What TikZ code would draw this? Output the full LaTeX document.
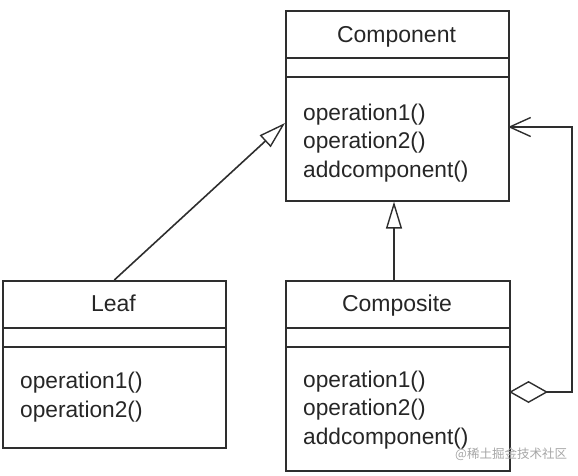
\documentclass[tikz,border=0pt]{standalone}
\usepackage{fontspec}
\setmainfont{Liberation Sans}
\newfontfamily\cjk{Noto Sans CJK SC}
\usetikzlibrary{arrows.meta,calc}
\tikzset{
  ln/.style={line width=1.6pt, draw=black!82},
  cls/.style={ln, rectangle, inner sep=0pt, anchor=north west},
  ttl/.style={anchor=base, font=\fontsize{23}{28}\selectfont, text=black!85},
  ops/.style={anchor=base west, align=left, inner sep=0pt, font=\fontsize{22.7}{28.3}\selectfont, text=black!85},
  inh/.style={ln, -{Triangle[open, length=27pt, width=16pt, line width=1.4pt]}},
  agg/.style={ln, {Diamond[open, length=39pt, width=22pt, line width=1.4pt]}-{Straight Barb[length=21pt, width=19pt, line width=1.4pt]}},
}
\begin{document}
\begin{tikzpicture}[x=1pt, y=-1pt]
\useasboundingbox (0,0) rectangle (578,475);
% Component
\node[cls, minimum width=223pt, minimum height=190pt] (comp) at (285,10) {};
\draw[ln] (285,58) -- (508,58) (285,77) -- (508,77);
\node[ttl] (compt) at (396.5,42) {Component};
\node[ops] (compo) at (303,177) {operation1()\\operation2()\\addcomponent()};
% Leaf
\node[cls, minimum width=223pt, minimum height=167pt] (leaf) at (2,280) {};
\draw[ln] (2,328) -- (225,328) (2,347) -- (225,347);
\node[ttl] (leaft) at (113.5,311) {Leaf};
\node[ops] (leafo) at (20,417) {operation1()\\operation2()};
% Composite
\node[cls, minimum width=224pt, minimum height=190pt] (cmps) at (285,280) {};
\draw[ln] (285,328) -- (509,328) (285,347) -- (509,347);
\node[ttl] (cmpst) at (397,311) {Composite};
\node[ops] (cmpso) at (303,444) {operation1()\\operation2()\\addcomponent()};
% connectors
\coordinate (lt) at (285,123);
\draw[inh] (leaf.north) -- (lt);
\draw[inh] (cmps.north -| 394,0) -- (comp.south -| 394,0);
\coordinate (ain) at (509,392);
\coordinate (aout) at (508,127);
\draw[agg] (ain) -- (572,392) -- (572,127) -- (aout);
% watermark
\node[anchor=base west, inner sep=0pt, font=\cjk\fontsize{12.5}{14}\selectfont, text=black!35] (wm) at (455,458) {@稀土掘金技术社区};
\end{tikzpicture}
\end{document}
